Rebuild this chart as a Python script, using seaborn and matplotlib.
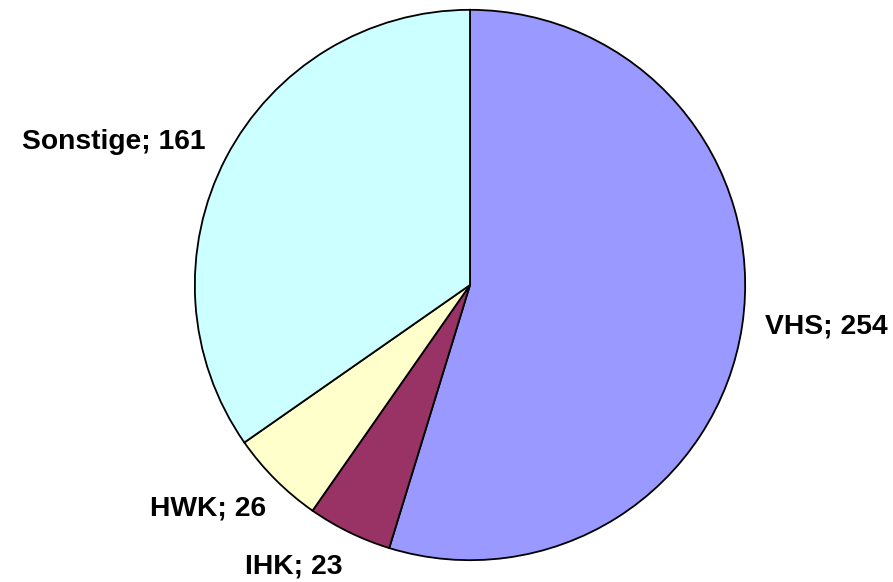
import matplotlib
matplotlib.use("Agg")
import matplotlib.pyplot as plt
import seaborn as sns

categories = ["VHS", "IHK", "HWK", "Sonstige"]
values = [254, 23, 26, 161]
colors = ["#9999FF", "#993366", "#FFFFCC", "#CCFFFF"]
labels = [f"{c}; {v}" for c, v in zip(categories, values)]

sns.set_theme(style="white")
plt.rcParams['font.family'] = ['Liberation Sans', 'DejaVu Sans']

W, H = 893, 582
fig = plt.figure(figsize=(W / 100, H / 100), dpi=100)
cx, cy, r = 470, 285, 276
ax = fig.add_axes([(cx - r) / W, (H - cy - r) / H, 2 * r / W, 2 * r / H])
palette = sns.color_palette(colors)
ax.pie(values, colors=palette, startangle=90, counterclock=False, radius=1,
       wedgeprops=dict(edgecolor="black", linewidth=1.3))
ax.set_xlim(-1.003, 1.003)
ax.set_ylim(-1.003, 1.003)
ax.axis("off")

# label anchor positions (pixels: left x, center y)
label_pos = [(765, 327), (245, 567), (150, 508), (22, 142)]
for lab, (px, py) in zip(labels, label_pos):
    fig.text(px / W, 1 - py / H, lab, ha="left", va="center",
             fontsize=20.3, fontweight="bold", color="black")

fig.savefig("out.png", dpi=100, facecolor="white")
